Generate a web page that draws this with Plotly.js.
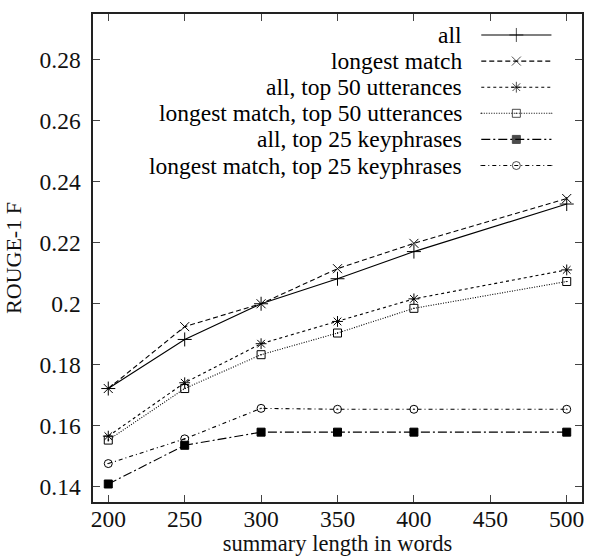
<!DOCTYPE html>
<html>
<head>
<meta charset="utf-8">
<script src="https://cdn.plot.ly/plotly-3.0.1.min.js"></script>
<style>html,body{margin:0;padding:0;background:#fff;}#chart{width:590px;height:556px;}</style>
</head>
<body>
<div id="chart"></div>
<script>
// Data
const summaryLengths = [200, 250, 300, 350, 400, 500];
const seriesNames = [
  "all",
  "longest match",
  "all, top 50 utterances",
  "longest match, top 50 utterances",
  "all, top 25 keyphrases",
  "longest match, top 25 keyphrases"
];
const allValues = [0.1722, 0.1883, 0.2000, 0.2082, 0.2171, 0.2327];
const longestMatchValues = [0.1722, 0.1925, 0.2000, 0.2115, 0.2198, 0.2345];
const allTop50Values = [0.1566, 0.1741, 0.1869, 0.1942, 0.2016, 0.2111];
const longestTop50Values = [0.1553, 0.1722, 0.1833, 0.1904, 0.1985, 0.2073];
const allTop25KpValues = [0.1409, 0.1536, 0.1579, 0.1579, 0.1579, 0.1579];
const longestTop25KpValues = [0.1476, 0.1557, 0.1657, 0.1654, 0.1654, 0.1654];
const xTickValues = [200, 250, 300, 350, 400, 450, 500];
const yTickValues = [0.14, 0.16, 0.18, 0.2, 0.22, 0.24, 0.26, 0.28];

const seriesValues = [allValues, longestMatchValues, allTop50Values, longestTop50Values, allTop25KpValues, longestTop25KpValues];
const styles = [
  {dash: "solid", symbol: "cross-thin-open", size: 10},
  {dash: "5px,3px", symbol: "x-thin-open", size: 9},
  {dash: "3px,3px", symbol: "asterisk-open", size: 9},
  {dash: "1px,1.5px", symbol: "square-open-dot", size: 8},
  {dash: "9px,3px,2px,3px", symbol: "square", size: 8},
  {dash: "4px,3px,1px,3px", symbol: "circle-open-dot", size: 8}
];

const FONT = "Liberation Serif, Times New Roman, serif";
const traces = [];
seriesValues.forEach((vals, i) => {
  const st = styles[i];
  traces.push({
    x: summaryLengths, y: vals, name: seriesNames[i], type: "scatter", mode: "lines+markers",
    line: {color: "#000", width: 1.1, dash: st.dash},
    marker: {symbol: st.symbol, size: st.size, color: "#000", line: {color: "#000", width: 1}},
    showlegend: false
  });
});

// Custom legend (text on the left, sample on the right), drawn on an overlay axis
const legendTextX = 0.759, legendLineX0 = 0.794, legendLineX1 = 0.9375, legendTopY = 0.957, legendStep = 0.0535;
const annotations = [];
seriesNames.forEach((name, i) => {
  const st = styles[i];
  const yy = legendTopY - i * legendStep;
  traces.push({
    x: [legendLineX0, (legendLineX0 + legendLineX1) / 2, legendLineX1], y: [yy, yy, yy],
    xaxis: "x2", yaxis: "y2", type: "scatter", mode: "lines+markers", hoverinfo: "skip",
    line: {color: "#000", width: 1.1, dash: st.dash},
    marker: {symbol: st.symbol, size: [0, st.size, 0], color: "#000", line: {color: "#000", width: 1}},
    showlegend: false
  });
  annotations.push({
    text: name, xref: "paper", yref: "paper", x: legendTextX, y: yy,
    xanchor: "right", yanchor: "middle", showarrow: false,
    font: {family: FONT, size: 23.5, color: "#000"}
  });
});

const axisCommon = {
  showgrid: false, zeroline: false, showline: true, linecolor: "#222", linewidth: 1.6,
  mirror: "ticks", ticks: "inside", ticklen: 7, tickwidth: 1, tickcolor: "#444",
  tickfont: {family: FONT, size: 23.5, color: "#111"}
};

const layout = {
  width: 590, height: 556,
  margin: {l: 93, r: 8, t: 14, b: 54},
  paper_bgcolor: "#fff", plot_bgcolor: "#fff",
  font: {family: FONT, color: "#111"},
  xaxis: Object.assign({}, axisCommon, {
    range: [190, 510], tickvals: xTickValues, ticklabelstandoff: -5, automargin: false,
    title: {text: "summary length in words", font: {family: FONT, size: 22.5, color: "#111"}, standoff: 6}
  }),
  yaxis: Object.assign({}, axisCommon, {
    range: [0.135, 0.295], tickvals: yTickValues, ticklabelstandoff: 6, automargin: false,
    title: {text: "ROUGE-1 F", font: {family: FONT, size: 22, color: "#111"}, standoff: 12}
  }),
  xaxis2: {overlaying: "x", anchor: "y2", range: [0, 1], visible: false, fixedrange: true},
  yaxis2: {overlaying: "y", anchor: "x2", range: [0, 1], visible: false, fixedrange: true},
  annotations: annotations
};

Plotly.newPlot("chart", traces, layout, {displayModeBar: false, staticPlot: true});
</script>
</body>
</html>
